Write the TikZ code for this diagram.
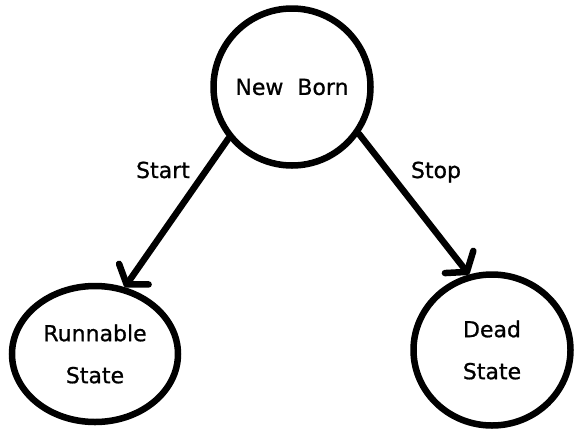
\documentclass[tikz,border=0pt]{standalone}
\usepackage{fontspec}
\setmainfont{DejaVu Sans}
\newfontface\statefont{DejaVu Sans}[FakeBold=0.8]
\usetikzlibrary{arrows.meta,shapes.geometric}

\begin{document}
\begin{tikzpicture}[
  x=1pt,y=-1pt,
  state/.style={draw,line width=6.5pt,ellipse,inner sep=0pt,align=center,font=\statefont\fontsize{22}{42}\selectfont},
  arr/.style={-{Straight Barb[angle=110:22pt,round]},line width=6.5pt,line cap=round},
  lbl/.style={anchor=base,font=\statefont\fontsize{22}{26}\selectfont}
]
\useasboundingbox (0,0) rectangle (575,429);
% states
\node[state,circle,minimum size=157pt] (born) at (292,87) {New\ \ Born};
\node[state,minimum width=166pt,minimum height=136pt] (runnable) at (95,354) {Runnable\\State};
\node[state,minimum width=157pt,minimum height=151pt] (dead) at (492,350) {Dead\\State};

% transitions
\draw[arr] (born.219) -- (runnable.66);
\draw[arr] (born.325) -- (dead.107);
\node[lbl] (start) at (163,178) {Start};
\node[lbl] (stop) at (436,178) {Stop};
\end{tikzpicture}
\end{document}
